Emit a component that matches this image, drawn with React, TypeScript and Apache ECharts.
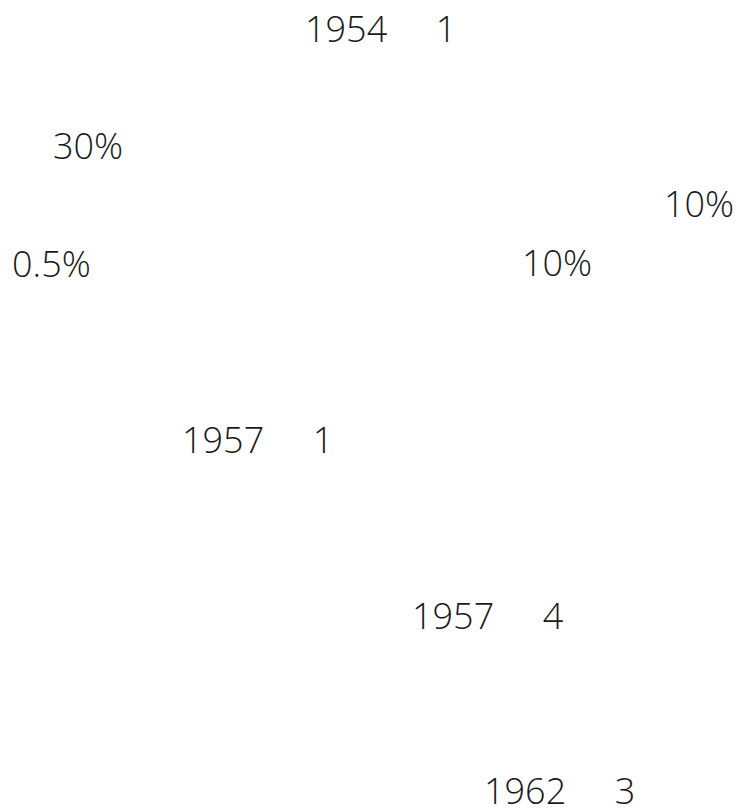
import React, { useEffect, useRef } from "react";
import * as echarts from "echarts";

// Visible texts of the reference (CJK glyphs rendered as blanks there; kept as spaces)
const GAP = "\u3000\u2005\u200A";
const dateLabels: string[] = ["1954" + GAP + "1", "1957" + GAP + "1", "1957" + GAP + "4", "1962" + GAP + "3"];
const percentLabels: string[] = ["30%", "10%", "0.5%", "10%"];

// Layout (page coordinates: left of text, vertical middle of digits)
const dateLayout: [number, number][] = [
  [305, 28],
  [182, 439],
  [412, 615],
  [484, 790],
];
const percentLayout: [number, number][] = [
  [53, 145],
  [664, 203],
  [12, 263],
  [522, 262],
];

const FONT_FAMILY = "'Open Sans', sans-serif";
const FONT_SIZE = 36;

export default function App() {
  const ref = useRef<HTMLDivElement>(null);
  useEffect(() => {
    document.body.style.margin = "0";
    if (!ref.current) return;
    const chart = echarts.init(ref.current, null, { renderer: "svg" });
    const mk = (text: string, pos: [number, number]) => ({
      type: "text",
      x: pos[0],
      y: pos[1],
      style: {
        text,
        fill: "#1a1a1a",
        fontFamily: FONT_FAMILY,
        fontSize: FONT_SIZE,
        fontWeight: 300,
        lineHeight: 30,
        textAlign: "left",
        textVerticalAlign: "middle",
      },
    });
    const elements = [
      ...dateLabels.map((t, i) => mk(t, dateLayout[i])),
      ...percentLabels.map((t, i) => mk(t, percentLayout[i])),
    ];
    chart.setOption({
      animation: false,
      backgroundColor: "#ffffff",
      graphic: { elements },
    });
    return () => chart.dispose();
  }, []);
  return <div ref={ref} style={{ width: 743, height: 809 }} />;
}
